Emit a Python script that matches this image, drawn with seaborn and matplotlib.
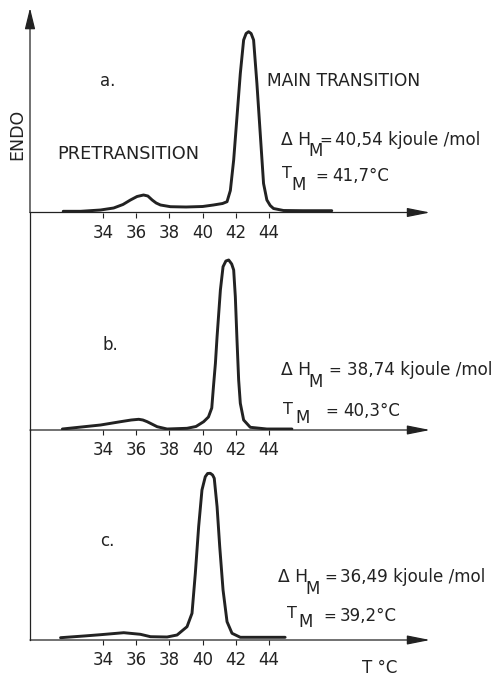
import matplotlib
matplotlib.use("Agg")
import matplotlib.pyplot as plt
import seaborn as sns
import pandas as pd

# ---------------- data ----------------
ticks = [34, 36, 38, 40, 42, 44]
tick_labels = ["34", "36", "38", "40", "42", "44"]

# curve a (temperature in degC, endothermic signal in arbitrary units)
temp_a = [31.6, 32.65, 33.85, 34.64, 35.2, 35.65, 36.05, 36.44, 36.7, 36.96, 37.2, 37.46,
          38.06, 39.0, 40.0, 40.65, 41.2, 41.47, 41.67, 41.87, 42.07, 42.27, 42.47, 42.62,
          42.77, 42.92, 43.07, 43.27, 43.47, 43.67, 43.87, 44.07, 44.27, 44.87, 46.0, 47.78]
endo_a = [1.2, 1.2, 2.5, 4.5, 8, 12.5, 16, 17.5, 16.5, 12.5, 9.5, 7.5,
          5.8, 5.5, 6, 7.5, 9, 10.8, 22, 52.5, 95.8, 139, 172.5, 179,
          180.8, 179, 172.5, 129, 79, 29, 12.5, 7, 4, 2, 1.8, 1.8]

# curve b
temp_b = [31.55, 33.85, 35.05, 35.7, 36.15, 36.4, 36.66, 37.26, 37.86, 39.06, 39.6, 40.06,
          40.35, 40.55, 40.66, 40.77, 40.87, 41.07, 41.23, 41.4, 41.57, 41.75, 41.87, 41.97,
          42.07, 42.17, 42.27, 42.47, 42.87, 43.87, 45.38]
endo_b = [1, 5, 8.3, 10, 10.7, 10, 8.3, 3.3, 1, 1.7, 3.5, 8.3,
          13, 22, 45, 66.7, 93.3, 140, 163.3, 169, 170, 166, 160, 133.3,
          90, 50, 26.7, 10, 2.7, 1, 1]

# curve c
temp_c = [31.44, 32.85, 33.85, 35.25, 36.25, 36.86, 37.86, 38.46, 39.06, 39.36, 39.56, 39.76,
          39.96, 40.16, 40.3, 40.46, 40.6, 40.7, 40.87, 41.03, 41.23, 41.47, 41.77, 42.27, 44.97]
endo_c = [2.3, 4, 5.3, 7.3, 5.7, 3.3, 3, 5, 13.3, 26.7, 66.7, 113.3,
          150, 163.3, 166.5, 166.7, 165, 161.7, 133.3, 93.3, 50, 18.3, 6.7, 2.7, 2.7]

panel_letters = ["a.", "b.", "c."]
dh_values = ["40,54 kjoule /mol", "38,74 kjoule /mol", "36,49 kjoule /mol"]
tm_values = ["41,7°C", "40,3°C", "39,2°C"]

# ---------------- figure ----------------
sns.set_theme(style="white")
plt.rcParams["font.family"] = ["DejaVu Sans"]

W, H = 496, 680
fig = plt.figure(figsize=(W / 100, H / 100), dpi=100)
fig.patch.set_facecolor("white")
INK = "#222222"

XMIN, XMAX = 29.6, 54.3
ARROW_END = 53.7
LEFT = 30

# (top px, bottom px) of each panel band; baseline at bottom
bands = [(8, 212.5), (212.5, 430), (430, 640)]
curves = [(temp_a, endo_a), (temp_b, endo_b), (temp_c, endo_c)]


def px(x, y):
    return x / W, 1 - y / H


axes = []
for (top, bot), (tx, ty) in zip(bands, curves):
    ax = fig.add_axes([LEFT / W, 1 - bot / H, (440 - LEFT) / W, (bot - top) / H])
    ax.set_facecolor("none")
    df = pd.DataFrame({"T": tx, "E": ty})
    sns.lineplot(data=df, x="T", y="E", ax=ax, color=INK, linewidth=2.1,
                 solid_capstyle="round", solid_joinstyle="round")
    ax.set_xlim(XMIN, XMAX)
    ax.set_ylim(0, bot - top)
    ax.set_xlabel("")
    ax.set_ylabel("")
    for s in ["top", "right", "bottom"]:
        ax.spines[s].set_visible(False)
    ax.spines["left"].set_color(INK)
    ax.spines["left"].set_linewidth(0.9)
    ax.set_yticks([])
    ax.set_xticks(ticks)
    ax.set_xticklabels(tick_labels, fontsize=12, color=INK)
    ax.tick_params(axis="x", direction="out", length=3.5, width=0.8, color=INK,
                   pad=4.5, bottom=True)
    # horizontal baseline with arrow
    ax.annotate("", xy=(ARROW_END, 0), xytext=(XMIN, 0), xycoords="data",
                annotation_clip=False,
                arrowprops=dict(arrowstyle="-|>,head_length=0.7,head_width=0.14",
                                mutation_scale=20, lw=0.9, color=INK,
                                shrinkA=0, shrinkB=0))
    axes.append(ax)

# top arrow on the vertical axis
ax_a = axes[0]
ax_a.spines["left"].set_visible(False)
ax_a.annotate("", xy=(XMIN, bands[0][1] - bands[0][0]), xytext=(XMIN, 0), xycoords="data",
              annotation_clip=False,
              arrowprops=dict(arrowstyle="-|>,head_length=0.65,head_width=0.16",
                              mutation_scale=20, lw=0.9, color=INK,
                              shrinkA=0, shrinkB=0))

# ---------------- texts ----------------
def t(x, y, s, size=12, ha="left", **kw):
    fig.text(*px(x, y), s, fontsize=size, color=INK, va="center", ha=ha, **kw)

t(17, 134, "ENDO", size=12.5, rotation=90, ha="center")
t(100, 81, panel_letters[0])
t(267, 81, "MAIN TRANSITION", size=12.3)
t(57, 154, "PRETRANSITION", size=12.8)

t(102, 345, panel_letters[1])
t(100, 541, panel_letters[2])

# Delta H blocks: (x of "Δ H", y, x of M, y of M, x of "=", x of value)
dh_pos = [(281, 140, 308, 151, 319, 335),
          (281, 370, 308, 382, 328, 347),
          (278, 577, 305, 589, 324, 340)]
# T_M blocks: (x of T, y of T, x of M, y of M, x of "=", x of value, y of value)
tm_pos = [(282, 173, 291, 185, 315, 332, 176),
          (283, 410, 295, 418, 325, 343, 411),
          (287, 613, 298, 622, 323, 340, 616)]
for i in range(3):
    x0, y0, xm, ym, xq, xv = dh_pos[i]
    t(x0, y0, "Δ H", size=12.3)
    t(xm, ym, "M", size=12)
    t(xq, y0, "=", size=11)
    t(xv, y0, dh_values[i], size=12.1)
    tx0, ty0, txm, tym, txq, txv, tyv = tm_pos[i]
    t(tx0, ty0, "T", size=11.5)
    t(txm, tym, "M", size=12)
    t(txq, tyv, "=", size=11)
    t(txv, tyv, tm_values[i], size=12)

t(362, 668, "T °C", size=12)

fig.savefig("out.png", dpi=100, facecolor="white")
